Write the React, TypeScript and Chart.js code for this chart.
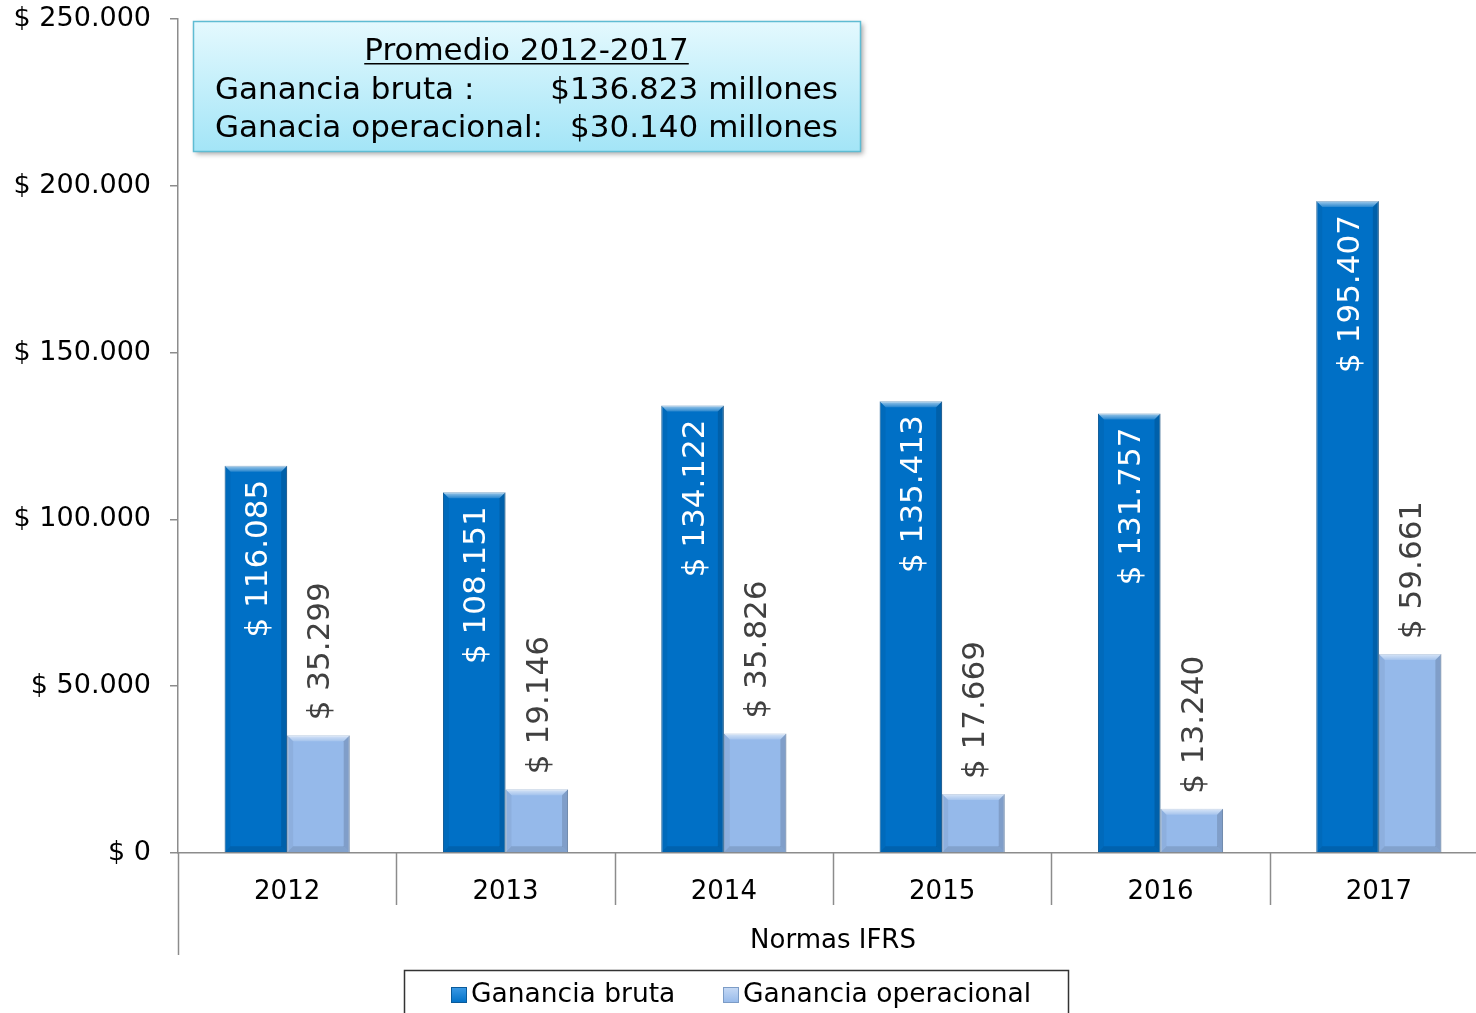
import React, { useEffect, useRef } from "react";
import { Chart, registerables } from "chart.js";

Chart.register(...registerables);

const categories = ["2012", "2013", "2014", "2015", "2016", "2017"];
const gananciaBruta = [116085, 108151, 134122, 135413, 131757, 195407];
const gananciaOperacional = [35299, 19146, 35826, 17669, 13240, 59661];
const seriesNames = ["Ganancia bruta", "Ganancia operacional"];
const seriesColors = ["#0070C6", "#95B9EA"];
const seriesBorders = ["#0A5A9A", "#7C9CC6"];
const yMin = 0;
const yMax = 250000;
const yStep = 50000;
const groupLabel = "Normas IFRS";
const noteTitle = "Promedio 2012-2017";
const noteLines = [
  ["Ganancia bruta :", "$136.823 millones"],
  ["Ganacia operacional:", "$30.140 millones"],
];

const FONT = "'DejaVu Sans', Verdana, sans-serif";

const fmt = (v: number) =>
  "$ " + String(Math.round(v)).replace(/\B(?=(\d{3})+(?!\d))/g, ".");

const decorPlugin = {
  id: "decor",
  afterDatasetsDraw(chart: any) {
    const ctx = chart.ctx;
    chart.data.datasets.forEach((ds: any, di: number) => {
      const meta = chart.getDatasetMeta(di);
      meta.data.forEach((el: any, i: number) => {
        const { x, y, base, width } = el.getProps(["x", "y", "base", "width"], true);
        const l = x - width / 2;
        const r = x + width / 2;
        const b = 6;
        ctx.save();
        const gt = ctx.createLinearGradient(0, y, 0, y + b);
        gt.addColorStop(0, "rgba(255,255,255,0.65)");
        gt.addColorStop(1, "rgba(255,255,255,0.15)");
        ctx.fillStyle = gt;
        ctx.beginPath();
        ctx.moveTo(l, y);
        ctx.lineTo(r, y);
        ctx.lineTo(r - b, y + b);
        ctx.lineTo(l + b, y + b);
        ctx.closePath();
        ctx.fill();
        ctx.fillStyle = "rgba(0,0,0,0.05)";
        ctx.beginPath();
        ctx.moveTo(l, y);
        ctx.lineTo(l + b, y + b);
        ctx.lineTo(l + b, base - b);
        ctx.lineTo(l, base);
        ctx.closePath();
        ctx.fill();
        ctx.fillStyle = "rgba(0,0,0,0.14)";
        ctx.beginPath();
        ctx.moveTo(r, y);
        ctx.lineTo(r - b, y + b);
        ctx.lineTo(r - b, base - b);
        ctx.lineTo(r, base);
        ctx.closePath();
        ctx.fill();
        ctx.fillStyle = "rgba(0,0,0,0.12)";
        ctx.beginPath();
        ctx.moveTo(l, base);
        ctx.lineTo(l + b, base - b);
        ctx.lineTo(r - b, base - b);
        ctx.lineTo(r, base);
        ctx.closePath();
        ctx.fill();
        ctx.restore();

        const v = ds.data[i];
        ctx.save();
        ctx.font = `31px ${FONT}`;
        ctx.textBaseline = "middle";
        if (di === 0) {
          ctx.translate(x + 3, y + 14);
          ctx.rotate(-Math.PI / 2);
          ctx.textAlign = "right";
          ctx.fillStyle = "#FFFFFF";
        } else {
          ctx.translate(x + 3, y - 15);
          ctx.rotate(-Math.PI / 2);
          ctx.textAlign = "left";
          ctx.fillStyle = "#404040";
        }
        ctx.fillText(fmt(v), 0, 0);
        ctx.restore();
      });
    });
  },
  afterDraw(chart: any) {
    const ctx = chart.ctx;
    const area = chart.chartArea;
    const xs = chart.scales.x;
    const n = categories.length;
    const half = (xs.getPixelForValue(1) - xs.getPixelForValue(0)) / 2;

    ctx.save();
    ctx.strokeStyle = "#8C8C8C";
    ctx.lineWidth = 1.5;
    for (let i = 0; i <= n; i++) {
      const px = Math.round(xs.getPixelForValue(i) - half) + 0.5;
      const len = i === 0 || i === n ? 102 : 52;
      ctx.beginPath();
      ctx.moveTo(px, area.bottom);
      ctx.lineTo(px, area.bottom + len);
      ctx.stroke();
    }
    ctx.restore();

    ctx.save();
    ctx.font = `26px ${FONT}`;
    ctx.fillStyle = "#000";
    ctx.textAlign = "center";
    ctx.textBaseline = "middle";
    ctx.fillText(groupLabel, (area.left + area.right) / 2, area.bottom + 88);
    ctx.restore();

    const bx = 193, by = 21, bw = 667, bh = 130;
    ctx.save();
    ctx.shadowColor = "rgba(0,0,0,0.35)";
    ctx.shadowBlur = 5;
    ctx.shadowOffsetX = 3;
    ctx.shadowOffsetY = 3;
    const g = ctx.createLinearGradient(0, by, 0, by + bh);
    g.addColorStop(0, "#E4F9FE");
    g.addColorStop(1, "#A3E5F7");
    ctx.fillStyle = g;
    ctx.fillRect(bx, by, bw, bh);
    ctx.restore();
    ctx.save();
    ctx.strokeStyle = "#5FBCD3";
    ctx.lineWidth = 1.5;
    ctx.strokeRect(bx + 0.5, by + 0.5, bw, bh);
    ctx.font = `31px ${FONT}`;
    ctx.fillStyle = "#000";
    ctx.textBaseline = "alphabetic";
    ctx.textAlign = "center";
    const cx = bx + bw / 2;
    ctx.fillText(noteTitle, cx, 60);
    const tw = ctx.measureText(noteTitle).width;
    ctx.fillRect(cx - tw / 2, 63, tw, 1.5);
    noteLines.forEach((ln, k) => {
      const yy = 99 + k * 38;
      ctx.textAlign = "left";
      ctx.fillText(ln[0], 215, yy);
      ctx.textAlign = "right";
      ctx.fillText(ln[1], 838, yy);
    });
    ctx.restore();

    ctx.save();
    ctx.strokeStyle = "#333";
    ctx.lineWidth = 1.5;
    ctx.strokeRect(404.5, 970.5, 664, 60);
    ctx.font = `26.5px ${FONT}`;
    ctx.textBaseline = "middle";
    ctx.textAlign = "left";
    const lx = [451, 723];
    chart.data.datasets.forEach((ds: any, di: number) => {
      const sx = lx[di];
      const sy = 987;
      const gg = ctx.createLinearGradient(sx, sy, sx, sy + 16);
      gg.addColorStop(0, di === 0 ? "#3D9BE6" : "#C7DAF5");
      gg.addColorStop(1, ds.backgroundColor);
      ctx.fillStyle = gg;
      ctx.fillRect(sx, sy, 16, 16);
      ctx.strokeStyle = ds.borderColor;
      ctx.lineWidth = 1;
      ctx.strokeRect(sx + 0.5, sy + 0.5, 15, 15);
      ctx.fillStyle = "#000";
      ctx.fillText(ds.label, sx + 20, 995);
    });
    ctx.restore();
  },
};

export default function App() {
  const ref = useRef<HTMLCanvasElement | null>(null);
  useEffect(() => {
    if (!ref.current) return;
    const chart = new Chart(ref.current, {
      type: "bar",
      data: {
        labels: categories,
        datasets: [
          {
            label: seriesNames[0],
            data: gananciaBruta,
            backgroundColor: seriesColors[0],
            borderColor: seriesBorders[0],
            borderWidth: 1,
          },
          {
            label: seriesNames[1],
            data: gananciaOperacional,
            backgroundColor: seriesColors[1],
            borderColor: seriesBorders[1],
            borderWidth: 1,
          },
        ],
      },
      options: {
        responsive: false,
        animation: false,
        devicePixelRatio: 1,
        layout: { padding: { top: 19, right: 12, bottom: 0, left: 0 } },
        datasets: { bar: { categoryPercentage: 0.573, barPercentage: 1 } },
        plugins: { legend: { display: false }, tooltip: { enabled: false } },
        scales: {
          x: {
            grid: { display: false },
            border: { display: true, color: "#8C8C8C", width: 1.5 },
            ticks: {
              color: "#000",
              font: { family: FONT, size: 26 },
              padding: 16,
              maxRotation: 0,
            },
            afterFit: (s: any) => {
              s.height = 160;
            },
          },
          y: {
            min: yMin,
            max: yMax,
            ticks: {
              stepSize: yStep,
              color: "#000",
              font: { family: FONT, size: 27 },
              padding: 19,
              callback: (v: any) => fmt(Number(v)),
            },
            grid: {
              drawOnChartArea: false,
              color: "#8C8C8C",
              tickLength: 8,
              lineWidth: 1.5,
            },
            border: { display: true, color: "#8C8C8C", width: 1.5 },
            afterFit: (s: any) => {
              s.width = 178;
              s.paddingTop = 0;
              s.paddingBottom = 0;
            },
          },
        },
      },
      plugins: [decorPlugin],
    });
    return () => chart.destroy();
  }, []);
  return (
    <div
      style={{
        position: "absolute",
        left: 0,
        top: 0,
        width: 1476,
        height: 1013,
        overflow: "hidden",
        background: "#fff",
      }}
    >
      <canvas ref={ref} width={1500} height={1013} style={{ display: "block" }} />
    </div>
  );
}
